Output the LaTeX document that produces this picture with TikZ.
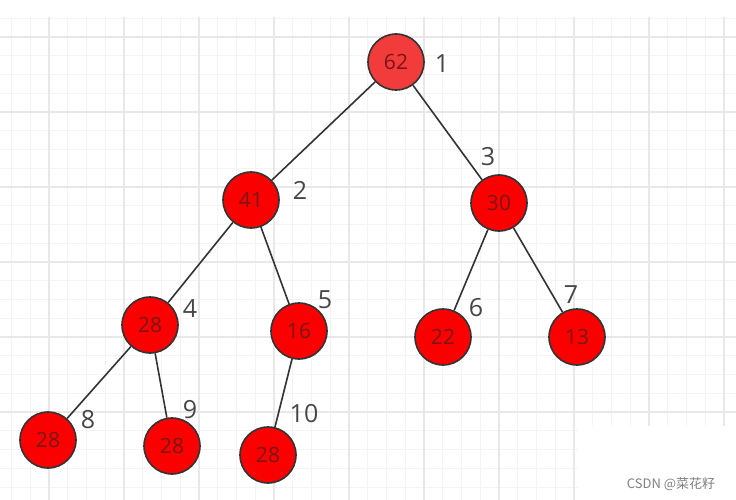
\documentclass[tikz,border=0pt]{standalone}
\usepackage{fontspec}
\setmainfont{Open Sans}
\newfontfamily\cjk{Noto Sans CJK SC}
\definecolor{heapred}{RGB}{250,0,0}
\definecolor{rootred}{RGB}{242,60,60}
\definecolor{numred}{RGB}{125,20,20}
\definecolor{edgegray}{RGB}{51,51,51}
\tikzstyle{hnode}=[circle, draw=edgegray, line width=1.6pt, fill=heapred, text=numred, minimum size=56pt, inner sep=0pt, font=\fontsize{21}{21}\selectfont]
\tikzstyle{hroot}=[hnode, fill=rootred]
\tikzstyle{idx}=[text=edgegray!90, font=\fontsize{25}{25}\selectfont]
\tikzstyle{minorline}=[draw={rgb,255:red,244;green,244;blue,246}, line width=0.9pt]
\tikzstyle{majorline}=[draw={rgb,255:red,232;green,232;blue,234}, line width=1.1pt]

\begin{document}
\begin{tikzpicture}[x=1pt, y=-1pt, line width=1.6pt]
\useasboundingbox (0,0) rectangle (736,500);
\fill[white] (0,0) rectangle (736,500);

% grid paper
\foreach \i in {0,...,39} \draw[minorline] ({11.5+\i*18.75},17) -- (11.5+\i*18.75,500);
\foreach \i in {0,...,26} \draw[minorline] (0,{18.25+\i*18.75}) -- (736,18.25+\i*18.75);
\foreach \i in {0,...,9} \draw[majorline] ({49+\i*75},17) -- (49+\i*75,500);
\foreach \i in {0,...,5} \draw[majorline] (0,{37+\i*75}) -- (736,37+\i*75);
\fill[white] (578,426) rectangle (736,500);

\node[hroot] (n1) at (396,62) {62};
\node[hnode] (n2) at (251,200) {41};
\node[hnode] (n3) at (499,203) {30};
\node[hnode] (n4) at (150,325) {28};
\node[hnode] (n5) at (299,331) {16};
\node[hnode] (n6) at (443,337) {22};
\node[hnode] (n7) at (577,337) {13};
\node[hnode] (n8) at (48,440) {28};
\node[hnode] (n9) at (172,446) {28};
\node[hnode] (n10) at (268,455) {28};

\node[idx] (l1) at (442,64) {1};
\node[idx] (l2) at (300,190) {2};
\node[idx] (l3) at (488,157) {3};
\node[idx] (l4) at (190,309) {4};
\node[idx] (l5) at (325,300) {5};
\node[idx] (l6) at (476,308) {6};
\node[idx] (l7) at (571,295) {7};
\node[idx] (l8) at (88,420) {8};
\node[idx] (l9) at (190,410) {9};
\node[idx] (l10) at (304,414) {10};

\draw[edgegray] (n1) -- (n2);
\draw[edgegray] (n1) -- (n3);
\draw[edgegray] (n2) -- (n4);
\draw[edgegray] (n2) -- (n5);
\draw[edgegray] (n3) -- (n6);
\draw[edgegray] (n3) -- (n7);
\draw[edgegray] (n4) -- (n8);
\draw[edgegray] (n4) -- (n9);
\draw[edgegray] (n5) -- (n10);

\node[text=black!50, font=\cjk\fontsize{13}{13}\selectfont] (wm) at (671,484) {CSDN @菜花籽};

\end{tikzpicture}
\end{document}
